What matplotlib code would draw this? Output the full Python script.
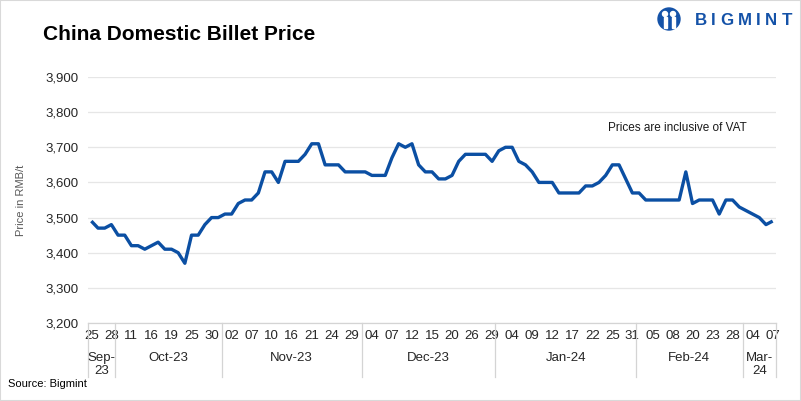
import matplotlib
matplotlib.use('Agg')
import matplotlib.pyplot as plt
import matplotlib.transforms as mtransforms
from matplotlib.lines import Line2D
from matplotlib.patches import Ellipse, Rectangle
import pandas as pd

dates = [
    "2023-09-25", "2023-09-26", "2023-09-27", "2023-09-28",
    "2023-10-09", "2023-10-10", "2023-10-11", "2023-10-12", "2023-10-13", "2023-10-16",
    "2023-10-17", "2023-10-18", "2023-10-19", "2023-10-20", "2023-10-23", "2023-10-25",
    "2023-10-26", "2023-10-27", "2023-10-30", "2023-10-31",
    "2023-11-01", "2023-11-02", "2023-11-03", "2023-11-06", "2023-11-07", "2023-11-08",
    "2023-11-09", "2023-11-10", "2023-11-13", "2023-11-14", "2023-11-16", "2023-11-17",
    "2023-11-20", "2023-11-21", "2023-11-22", "2023-11-23", "2023-11-24", "2023-11-27",
    "2023-11-28", "2023-11-29", "2023-11-30",
    "2023-12-01", "2023-12-04", "2023-12-05", "2023-12-06", "2023-12-07", "2023-12-08",
    "2023-12-11", "2023-12-12", "2023-12-13", "2023-12-14", "2023-12-15", "2023-12-18",
    "2023-12-19", "2023-12-20", "2023-12-21", "2023-12-22", "2023-12-26", "2023-12-27",
    "2023-12-28", "2023-12-29",
    "2024-01-02", "2024-01-03", "2024-01-04", "2024-01-05", "2024-01-08", "2024-01-09",
    "2024-01-10", "2024-01-11", "2024-01-12", "2024-01-15", "2024-01-16", "2024-01-17",
    "2024-01-18", "2024-01-19", "2024-01-22", "2024-01-23", "2024-01-24", "2024-01-25",
    "2024-01-26", "2024-01-29", "2024-01-31",
    "2024-02-01", "2024-02-02", "2024-02-05", "2024-02-06", "2024-02-07", "2024-02-08",
    "2024-02-18", "2024-02-19", "2024-02-20", "2024-02-21", "2024-02-22", "2024-02-23",
    "2024-02-26", "2024-02-27", "2024-02-28", "2024-02-29",
    "2024-03-01", "2024-03-04", "2024-03-05", "2024-03-06", "2024-03-07",
]

prices = [
    3490, 3470, 3470, 3480, 3450, 3450, 3420, 3420, 3410, 3420, 3430, 3410, 3410,
    3400, 3370, 3450, 3450, 3480, 3500, 3500, 3510, 3510, 3540, 3550, 3550, 3570,
    3630, 3630, 3600, 3660, 3660, 3660, 3680, 3710, 3710, 3650, 3650, 3650, 3630,
    3630, 3630, 3630, 3620, 3620, 3620, 3670, 3710, 3700, 3710, 3650, 3630,
    3630, 3610, 3610, 3620, 3660, 3680, 3680, 3680, 3680, 3660, 3690, 3700, 3700,
    3660, 3650, 3630, 3600, 3600, 3600, 3570, 3570, 3570, 3570, 3590, 3590, 3600,
    3620, 3650, 3650, 3610, 3570, 3570, 3550, 3550, 3550, 3550, 3550, 3550, 3630,
    3540, 3550, 3550, 3550, 3510, 3550, 3550, 3530, 3520, 3510, 3500, 3480, 3490,
]

y_ticks = [3200, 3300, 3400, 3500, 3600, 3700, 3800, 3900]

title = "China Domestic Billet Price"
y_title = "Price in RMB/t"
note = "Prices are inclusive of VAT"
source = "Source: Bigmint"
brand = "BIGMINT"

plt.rcParams['font.family'] = ['Liberation Sans', 'DejaVu Sans']

W, H = 801, 401
fig = plt.figure(figsize=(W / 100, H / 100), dpi=100)
L, R, T, B = 88, 776, 77, 323
ax = fig.add_axes([L / W, 1 - B / H, (R - L) / W, (B - T) / H])

dt = pd.to_datetime(pd.Series(dates))
n = len(prices)
xs = list(range(n))
ax.plot(xs, prices, color='#0b4fa3', lw=2.4, solid_joinstyle='round',
        solid_capstyle='butt', zorder=3)

ax.set_xlim(-0.5, n - 0.5)
ax.set_ylim(y_ticks[0], y_ticks[-1])
ax.set_yticks(y_ticks)
ax.set_yticklabels([f"{v:,}" for v in y_ticks])
ax.yaxis.grid(True, color='#e6e6e6', lw=0.9)
ax.set_axisbelow(True)
for s in ['left', 'right', 'top']:
    ax.spines[s].set_visible(False)
ax.spines['bottom'].set_color('#d4d4d4')
ax.spines['bottom'].set_linewidth(0.9)

ax.tick_params(axis='y', length=0, pad=7, labelsize=9.5, labelcolor='#262626')
tick_idx = list(range(0, n, 3))
ax.set_xticks(tick_idx)
ax.set_xticklabels([dt[i].strftime('%d') for i in tick_idx])
ax.tick_params(axis='x', length=0, pad=5, labelsize=9.5, labelcolor='#262626')

ax.set_ylabel(y_title, fontsize=8, color='#595959', labelpad=14)

# month group axis
trans = mtransforms.blended_transform_factory(ax.transData, ax.transAxes)
months = dt.dt.to_period('M')
groups = []
start = 0
for i in range(1, n + 1):
    if i == n or months[i] != months[start]:
        groups.append((start, i - 1, dt[start].strftime('%b-%y')))
        start = i
bounds = [-0.5] + [g[1] + 0.5 for g in groups]
for b in bounds:
    ax.add_line(Line2D([b, b], [0, -0.22], transform=trans, clip_on=False,
                       color='#d4d4d4', lw=0.9))
for s, e, lab in groups:
    c = (s + e) / 2
    txt = lab.replace('-', '-\n') if (e - s + 1) < 8 else lab
    ax.text(c, -0.118, txt, transform=trans, ha='center', va='top',
            fontsize=9.5, color='#262626', linespacing=1.1)

ax.text(0.856, 0.793, note, transform=ax.transAxes, ha='center', va='center',
        fontsize=8.5, color='#1a1a1a')

fig.text(43 / W, 1 - 35 / H, title, fontsize=15, fontweight='bold',
         va='center', ha='left', color='#000000')
fig.text(8 / W, 1 - 384 / H, source, fontsize=8, va='center', ha='left',
         color='#000000')

# logo
blue = '#1452a8'
cx, cy, r = 669, 19, 11
fig.add_artist(Ellipse((cx / W, 1 - cy / H), 2 * r / W, 2 * r / H,
                       transform=fig.transFigure, color=blue))
for dx in (-4, 4):
    fig.add_artist(Ellipse(((cx + dx) / W, 1 - (cy - 5) / H), 5 / W, 5 / H,
                           transform=fig.transFigure, color='white'))
    fig.add_artist(Rectangle(((cx + dx - 1.5) / W, 1 - (cy + 9) / H), 3 / W, 11 / H,
                             transform=fig.transFigure, color='white'))
letter_left = [695, 711.0, 720.0, 737.5, 756.0, 765.0, 781.5]
for ch, lx in zip(brand, letter_left):
    fig.text(lx / W, 1 - 20.5 / H, ch, fontsize=12.2, fontweight='bold',
             color=blue, ha='left', va='center')

fig.add_artist(Rectangle((0, 0), 1, 1, transform=fig.transFigure, fill=False,
                         ec='#d9d9d9', lw=1.5))

fig.savefig('out.png', dpi=100)
